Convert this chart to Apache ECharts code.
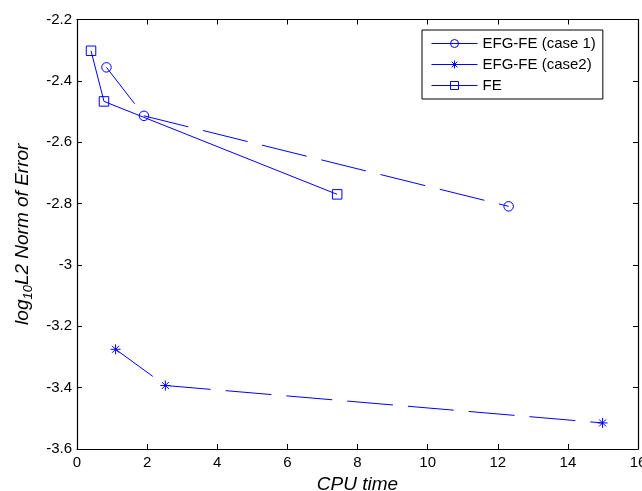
<!DOCTYPE html>
<html>
<head>
<meta charset="utf-8">
<script src="https://cdn.jsdelivr.net/npm/echarts@6/dist/echarts.min.js"></script>
<style>html,body{margin:0;padding:0;background:#fff}#c{width:642px;height:491px}</style>
</head>
<body>
<div id="c"></div>
<script>
// Data
const case1X = [0.84, 1.91, 12.31];
const case1Y = [-2.356, -2.514, -2.809];
const case2X = [1.10, 2.52, 14.99];
const case2Y = [-3.275, -3.393, -3.515];
const feX = [0.40, 0.77, 7.42];
const feY = [-2.302, -2.467, -2.770];
const seriesNames = ['EFG-FE (case 1)', 'EFG-FE (case2)', 'FE'];
const xTicks = [0, 2, 4, 6, 8, 10, 12, 14, 16];
const yTicks = [-3.6, -3.4, -3.2, -3, -2.8, -2.6, -2.4, -2.2];

const pairs = (xs, ys) => xs.map((x, i) => [x, ys[i]]);
const BLUE = '#0000ff';
const FONT = 'Liberation Sans';
const starPath = 'path://M0,-10L0,10M-10,0L10,0M-7,-7L7,7M-7,7L7,-7';

const chart = echarts.init(document.getElementById('c'), null, {renderer: 'canvas'});
const tickCommon = {show: true, inside: true, length: 5, lineStyle: {color: '#000', width: 1}};
const axisLineCommon = {show: true, onZero: false, lineStyle: {color: '#000', width: 1.2}};

chart.setOption({
  animation: false,
  backgroundColor: '#fff',
  textStyle: {fontFamily: FONT},
  grid: {left: 77, right: 4, top: 19.5, bottom: 42, containLabel: false, outerBoundsMode: 'none'},
  legend: {
    orient: 'vertical', left: 422, top: 30,
    borderColor: '#000', borderWidth: 1,
    padding: [6, 7, 6, 9], itemGap: 6,
    itemWidth: 46, itemHeight: 10,
    textStyle: {fontFamily: FONT, fontSize: 15, color: '#000'},
    lineStyle: {width: 1},
    itemStyle: {borderWidth: 1},
    data: seriesNames
  },
  xAxis: [{
    type: 'value', min: xTicks[0], max: xTicks[xTicks.length - 1], interval: 2,
    position: 'bottom',
    axisLine: axisLineCommon, axisTick: tickCommon,
    axisLabel: {color: '#000', fontSize: 15, fontFamily: FONT, margin: 6},
    splitLine: {show: false},
    name: 'CPU time', nameLocation: 'middle', nameGap: 25,
    nameTextStyle: {color: '#000', fontSize: 19, fontStyle: 'italic', fontFamily: FONT}
  }, {
    type: 'value', min: xTicks[0], max: xTicks[xTicks.length - 1], interval: 2,
    position: 'top',
    axisLine: axisLineCommon, axisTick: tickCommon,
    axisLabel: {show: false}, splitLine: {show: false}
  }],
  yAxis: [{
    type: 'value', min: yTicks[0], max: yTicks[yTicks.length - 1], interval: 0.2,
    position: 'left',
    axisLine: axisLineCommon, axisTick: tickCommon,
    axisLabel: {color: '#000', fontSize: 15, fontFamily: FONT, margin: 5,
      formatter: v => String(Math.round(v * 10) / 10)},
    splitLine: {show: false},
    name: '{n|log}{s|10}{n|L2 Norm of Error}', nameLocation: 'middle', nameGap: 40,
    nameTextStyle: {
      color: '#000', fontFamily: FONT,
      rich: {
        n: {fontSize: 19, fontStyle: 'italic', fontFamily: FONT, color: '#000'},
        s: {fontSize: 13, fontStyle: 'italic', fontFamily: FONT, color: '#000', verticalAlign: 'bottom', padding: [12, 0, 0, 0]}
      }
    }
  }, {
    type: 'value', min: yTicks[0], max: yTicks[yTicks.length - 1], interval: 0.2,
    position: 'right',
    axisLine: axisLineCommon, axisTick: tickCommon,
    axisLabel: {show: false}, splitLine: {show: false}
  }],
  series: [{
    name: seriesNames[0], type: 'line', data: pairs(case1X, case1Y),
    symbol: 'circle', symbolSize: 9.5,
    itemStyle: {color: 'rgba(255,255,255,0)', borderColor: BLUE, borderWidth: 1},
    lineStyle: {color: BLUE, width: 1, type: [46, 15]}
  }, {
    name: seriesNames[1], type: 'line', data: pairs(case2X, case2Y),
    symbol: starPath, symbolSize: 10,
    itemStyle: {color: 'rgba(255,255,255,0)', borderColor: BLUE, borderWidth: 1},
    lineStyle: {color: BLUE, width: 1, type: [46, 15]}
  }, {
    name: seriesNames[2], type: 'line', data: pairs(feX, feY),
    symbol: 'rect', symbolSize: 9.5,
    itemStyle: {color: 'rgba(255,255,255,0)', borderColor: BLUE, borderWidth: 1},
    lineStyle: {color: BLUE, width: 1, type: 'solid'}
  }]
});
</script>
</body>
</html>
